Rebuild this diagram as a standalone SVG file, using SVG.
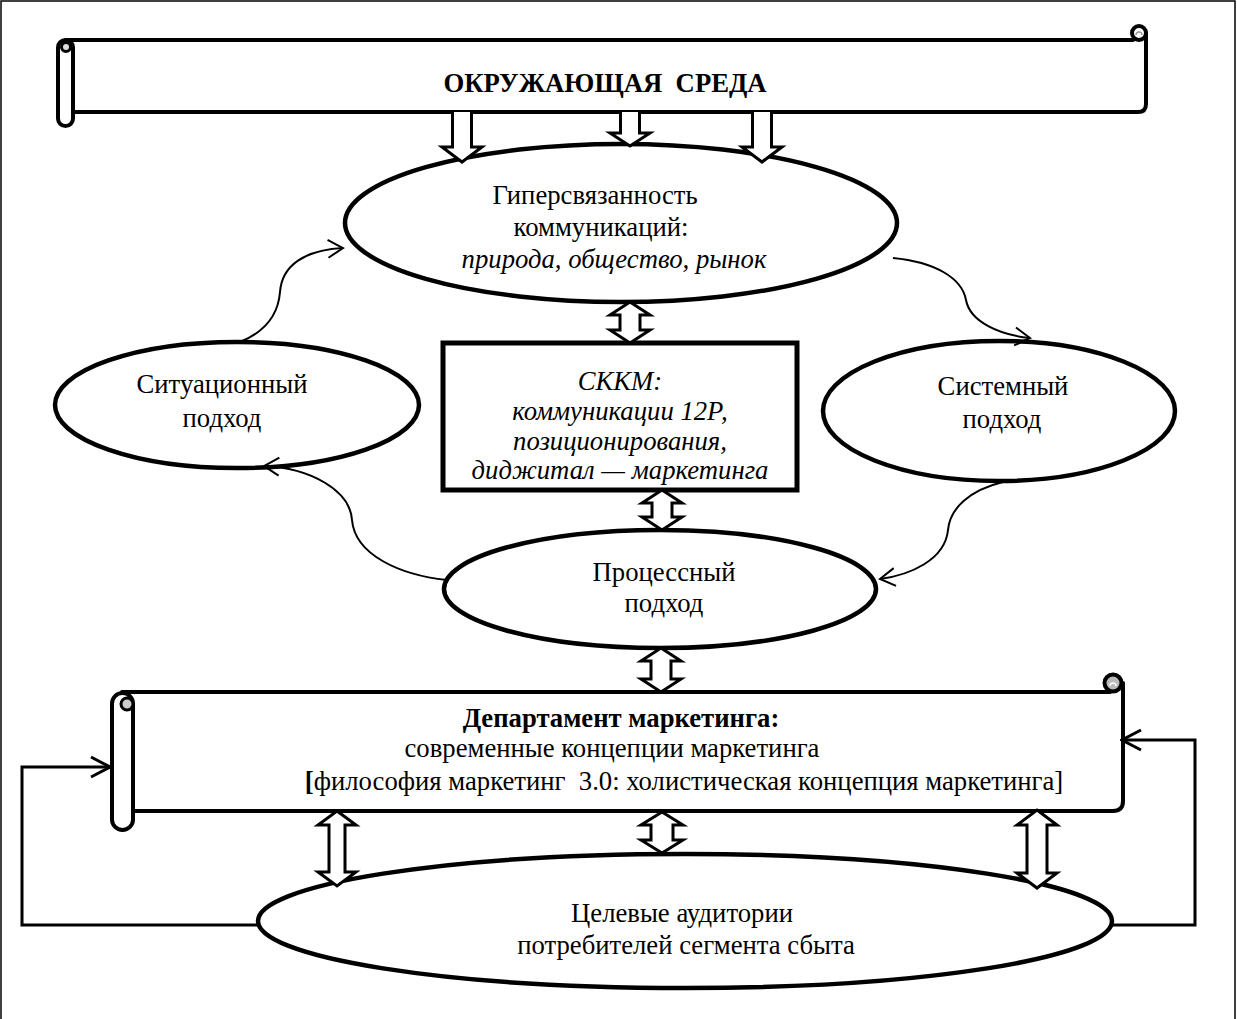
<svg xmlns="http://www.w3.org/2000/svg" width="1237" height="1019" viewBox="0 0 1237 1019">
<defs>
<style>
.t{font-family:"Liberation Serif","Times New Roman",serif;font-size:26.7px;text-anchor:middle;fill:#000}
.b{font-weight:bold}
.i{font-style:italic}
.node{fill:#fff;stroke:#000;stroke-width:4.5}
.ban{fill:none;stroke:#000;stroke-width:4;stroke-linejoin:round;stroke-linecap:round}
.blk{fill:#fff;stroke:#000;stroke-width:3;stroke-linejoin:miter}
.thin{fill:none;stroke:#000;stroke-width:2}
.fb{fill:none;stroke:#000;stroke-width:3;stroke-linejoin:miter}
</style>
<marker id="ah" markerUnits="userSpaceOnUse" viewBox="-18 -12 20 24" refX="0" refY="0" markerWidth="20" markerHeight="24" orient="auto">
<path d="M-15,-9 L0,0 L-15,9" fill="none" stroke="#000" stroke-width="2"/>
</marker>
<marker id="ahb" markerUnits="userSpaceOnUse" viewBox="-22 -14 24 28" refX="0" refY="0" markerWidth="24" markerHeight="28" orient="auto">
<path d="M-19,-10 L0,0 L-19,10" fill="none" stroke="#000" stroke-width="3"/>
</marker>
</defs>
<rect x="1" y="1" width="1234" height="1040" fill="#fff" stroke="#000" stroke-width="1.5"/>

<g id="env">
<path class="ban" d="M66,40 H1133"/>
<path class="ban" d="M73,112 H1138 Q1146,112 1146,104 V33"/>
<circle cx="1139" cy="33" r="7" fill="#fff" stroke="#000" stroke-width="4"/>
<path d="M1136,35 A3,3 0 1 1 1142,35" fill="none" stroke="#999" stroke-width="1.5"/>
<rect x="58" y="40" width="15" height="86" rx="7.5" fill="#fff" stroke="#000" stroke-width="4"/>
<circle cx="66" cy="47" r="4.5" fill="#ddd" stroke="#000" stroke-width="3"/>
<text class="t b" x="605" y="92" xml:space="preserve">ОКРУЖАЮЩАЯ  СРЕДА</text>
</g>

<g id="hyper">
<ellipse class="node" cx="621" cy="223" rx="276" ry="79"/>
<text class="t" x="595" y="204">Гиперсвязанность</text>
<text class="t" x="601" y="236">коммуникаций:</text>
<text class="t i" x="614" y="268">природа, общество, рынок</text>
</g>

<g id="situational">
<ellipse class="node" cx="237" cy="405" rx="182" ry="63"/>
<text class="t" x="222" y="393">Ситуационный</text>
<text class="t" x="222" y="427">подход</text>
</g>

<g id="system">
<ellipse class="node" cx="999" cy="411" rx="176" ry="70"/>
<text class="t" x="1003" y="395">Системный</text>
<text class="t" x="1002" y="428">подход</text>
</g>

<g id="skkm">
<rect x="443" y="343" width="354" height="147" fill="#fff" stroke="#000" stroke-width="5"/>
<text class="t i" x="620" y="390">СККМ:</text>
<text class="t i" x="620" y="420">коммуникации 12Р,</text>
<text class="t i" x="620" y="450">позиционирования,</text>
<text class="t i" x="620" y="479">диджитал — маркетинга</text>
</g>

<g id="process">
<ellipse class="node" cx="660" cy="589" rx="216" ry="59"/>
<text class="t" x="664" y="581">Процессный</text>
<text class="t" x="664" y="612">подход</text>
</g>

<g id="department">
<path class="ban" d="M122,692 H1110"/>
<path class="ban" d="M133,811 H1113 Q1123,811 1123,801 V683"/>
<circle cx="1113" cy="683" r="8.5" fill="#bbb" stroke="#000" stroke-width="4"/>
<path d="M1110,686 A3,3 0 1 1 1116,686" fill="none" stroke="#fff" stroke-width="1.5"/>
<rect x="112" y="693" width="21" height="137" rx="10.5" fill="#fff" stroke="#000" stroke-width="4"/>
<circle cx="127" cy="704" r="6" fill="#ccc" stroke="#000" stroke-width="3"/>
<text class="t b" x="621" y="727">Департамент маркетинга:</text>
<text class="t" x="612" y="757">современные концепции маркетинга</text>
<text class="t" x="684" y="790" xml:space="preserve"><tspan class="b">[</tspan>философия маркетинг  3.0: холистическая концепция маркетинга]</text>
</g>

<g id="audience">
<ellipse class="node" cx="685" cy="921" rx="427" ry="67"/>
<text class="t" x="682" y="922">Целевые аудитории</text>
<text class="t" x="686" y="954">потребителей сегмента сбыта</text>
</g>

<g id="connectors">
<path class="blk" d="M452.5,112 V147 H442 L462,162 L482,147 H471.5 V112"/>
<path class="blk" d="M620.5,112 V133 H610 L630,146 L650,133 H639.5 V112"/>
<path class="blk" d="M752.5,112 V147 H742 L762,162 L782,147 H771.5 V112"/>
<path class="blk" d="M630,302 L650,315 H640 V330 H650 L630,343 L610,330 H620 V315 H610 Z"/>
<path class="blk" d="M662,490 L682,503 H672 V517 H682 L662,530 L642,517 H652 V503 H642 Z"/>
<path class="blk" d="M661,648 L681,661 H671 V679 H681 L661,692 L641,679 H651 V661 H641 Z"/>
<path class="blk" d="M337,811 L356,825 H345 V872 H356 L337,886 L318,872 H329 V825 H318 Z"/>
<path class="blk" d="M662,812 L683,825 H673 V840 H683 L662,853 L641,840 H651 V825 H641 Z"/>
<path class="blk" d="M1037,810 L1057,825 H1047 V873 H1057 L1037,888 L1017,873 H1027 V825 H1017 Z"/>
<path class="thin" marker-end="url(#ah)" d="M240,342 C262,333 278,318 280,292 C282,265 305,250 343,248"/>
<path class="thin" marker-end="url(#ah)" d="M893,258 C935,262 962,278 966,300 C970,322 1000,335 1030,338"/>
<path class="thin" marker-end="url(#ah)" d="M447,580 C400,575 355,555 352,520 C350,490 310,468 264,466"/>
<path class="thin" marker-end="url(#ah)" d="M1003,482 C970,490 950,508 948,530 C945,560 910,575 880,579"/>
<path class="fb" marker-end="url(#ahb)" d="M258,925 H22 V767 H110"/>
<path class="fb" marker-end="url(#ahb)" d="M1112,925 H1195 V740 H1122"/>
</g>
</svg>
